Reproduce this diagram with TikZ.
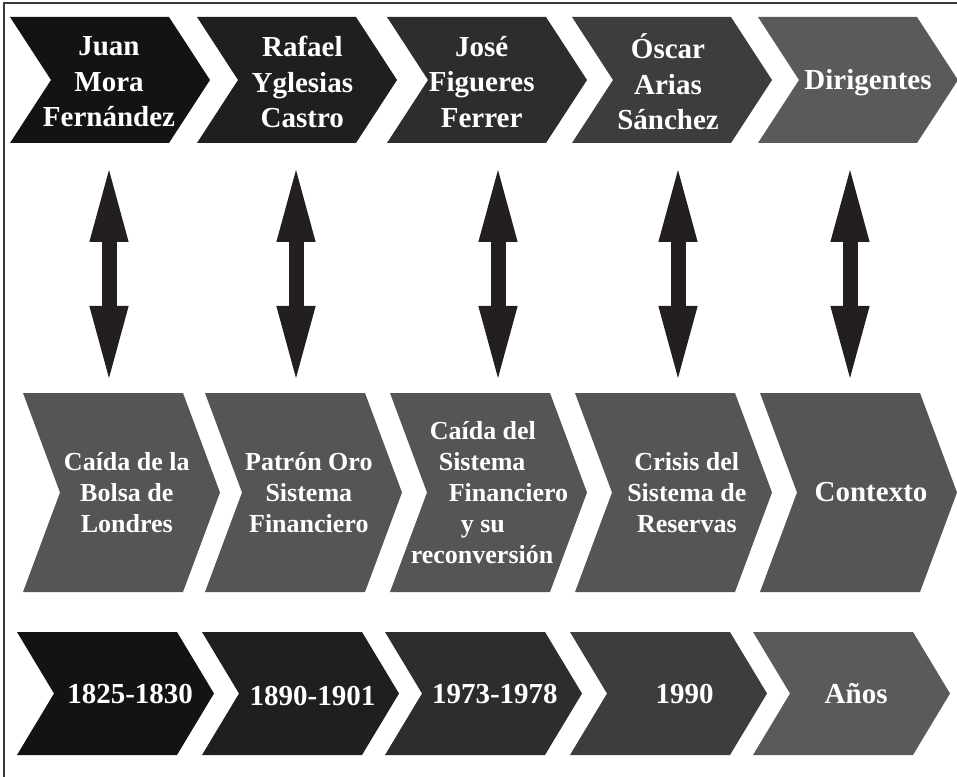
\documentclass[tikz,border=0pt]{standalone}
\usepackage{fontspec}
\setmainfont{Liberation Serif}
\usetikzlibrary{arrows.meta}

\definecolor{tone1}{HTML}{131313}
\definecolor{tone2}{HTML}{1F1F1F}
\definecolor{tone3}{HTML}{2D2D2D}
\definecolor{tone4}{HTML}{3D3D3D}
\definecolor{tone5}{HTML}{5A5A5A}
\definecolor{ctxgray}{HTML}{555555}
\definecolor{arrowgray}{HTML}{231F20}
\definecolor{framegray}{HTML}{3A3A3A}

\tikzset{
  chevtext/.style = {text=white, align=center, inner sep=0pt,
                     font=\bfseries\fontsize{21.75}{26.6}\selectfont},
  ctxtext/.style  = {chevtext, font=\bfseries\fontsize{19.5}{23.25}\selectfont},
  bigarrow/.style = {draw=arrowgray, line width=11.25pt,
                     arrows={Triangle[length=54pt,width=29.5pt,line width=0pt]-Triangle[length=54pt,width=29.5pt,line width=0pt]}}
}

% row geometry (pixels): top, height, width, depth of the point
\newcommand{\ChTop}{17}
\newcommand{\ChHt}{126}
\newcommand{\ChWd}{200}
\newcommand{\ChDp}{41}
% #1 name, #2 left edge, #3 colour, #4 text options, #5 text
\newcommand{\Chevron}[5]{%
  \fill[#3] (#2,\ChTop) -- ++(\ChWd-\ChDp,0) -- ++(\ChDp,\ChHt/2) -- ++(-\ChDp,\ChHt/2)
            -- ++(\ChDp-\ChWd,0) -- ++(\ChDp,-\ChHt/2) -- cycle;
  \node[#4] (#1) at (#2+\ChWd/2,\ChTop+\ChHt/2) {#5};
}

\begin{document}
\begin{tikzpicture}[x=0.75pt, y=-0.75pt]
\useasboundingbox (0,0) rectangle (957,777);
\draw[framegray, line width=1.5pt] (957,3.5) -- (3.5,3.5) -- (3.5,777);

% dirigentes
\Chevron{D1}{10}{tone1}{chevtext, xshift=-0.75pt, yshift=-1.5pt}{Juan\\Mora\\Fernández}
\Chevron{D2}{197}{tone2}{chevtext, xshift=4pt, yshift=-1.5pt}{Rafael\\Yglesias\\Castro}
\Chevron{D3}{387}{tone3}{chevtext, xshift=-4pt, yshift=-1.5pt}{José\\Figueres\\Ferrer}
\Chevron{D4}{572}{tone4}{chevtext, xshift=-3pt, yshift=-1.5pt}{Óscar\\Arias\\Sánchez}
\Chevron{D5}{758}{tone5}{chevtext, xshift=7.5pt, yshift=-2pt}{Dirigentes}

% contexto
\renewcommand{\ChTop}{393}
\renewcommand{\ChHt}{199}
\renewcommand{\ChWd}{197}
\renewcommand{\ChDp}{37}
\Chevron{C1}{23}{ctxgray}{ctxtext, xshift=4pt}{Caída de la\\Bolsa de\\Londres}
\Chevron{C2}{205}{ctxgray}{ctxtext, xshift=4pt}{Patrón Oro\\Sistema\\Financiero}
\Chevron{C3}{390}{ctxgray}{ctxtext, xshift=0.75pt, align=left}{\hspace*{14.25pt}Caída del\\
  \hspace*{21pt}Sistema\\\hspace*{28.5pt}Financiero\\\hspace*{37.5pt}y su\\reconversión}
\Chevron{C4}{575}{ctxgray}{ctxtext, xshift=10pt}{Crisis del\\Sistema de\\Reservas}
\Chevron{C5}{760}{ctxgray}{chevtext, xshift=9.4pt}{Contexto}

% años
\renewcommand{\ChTop}{632}
\renewcommand{\ChHt}{123}
\renewcommand{\ChWd}{197}
\renewcommand{\ChDp}{37}
\Chevron{Y1}{17}{tone1}{chevtext, xshift=11pt}{1825-1830}
\Chevron{Y2}{202}{tone2}{chevtext, xshift=9pt, yshift=-2pt}{1890-1901}
\Chevron{Y3}{385}{tone3}{chevtext, xshift=8.5pt}{1973-1978}
\Chevron{Y4}{570}{tone4}{chevtext, xshift=12pt}{1990}
\Chevron{Y5}{753}{tone5}{chevtext, xshift=3.5pt}{Años}

% double arrows between dirigentes and contexto
\foreach \n/\x in {1/109, 2/296, 3/498, 4/678, 5/850} {
  \coordinate (a\n) at (\x,170);
  \coordinate (b\n) at (\x,378);
  \draw[bigarrow] (a\n) -- (b\n);
}

\end{tikzpicture}
\end{document}
